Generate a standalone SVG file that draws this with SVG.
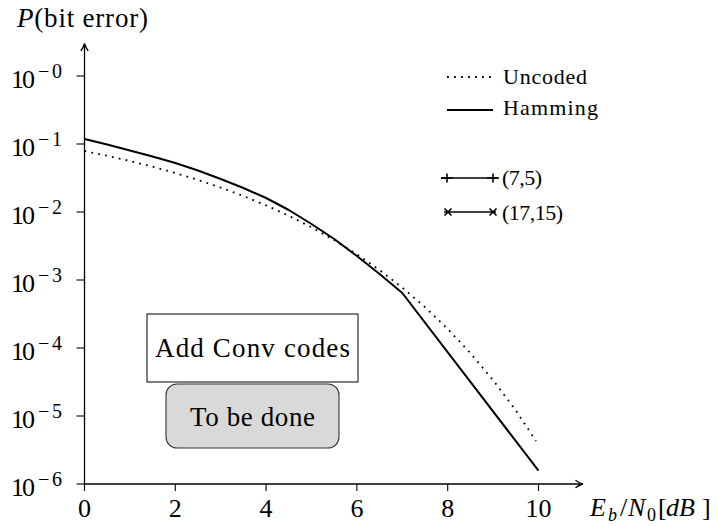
<svg xmlns="http://www.w3.org/2000/svg" width="718" height="526" viewBox="0 0 718 526">
<style>
  text { font-family: "Liberation Serif", "Times New Roman", serif; fill: #000; }
  .tick { font-size: 26px; }
  .sup { font-size: 20px; }
  .leg { font-size: 22px; }
  .ax { stroke: #000; stroke-width: 1.3; fill: none; }
  .tk { stroke: #000; stroke-width: 1.1; }
  .solid { stroke: #000; stroke-width: 2; fill: none; stroke-linejoin: round; }
  .dots { stroke: #000; stroke-width: 1.8; fill: none; stroke-dasharray: 1.8 5.2; }
  .mk { stroke: #000; stroke-width: 1.6; fill: none; }
</style>
<rect width="718" height="526" fill="#fff"/>

<g id="axes">
  <line class="ax" x1="84.5" y1="484" x2="84.5" y2="44"/>
  <path class="ax" d="M80.8,51 Q84,46 84.5,43.5 Q85,46 88.2,51"/>
  <line class="ax" x1="84.5" y1="484" x2="582" y2="484"/>
  <path class="ax" d="M575.5,480.3 Q580.5,483.5 583,484 Q580.5,484.5 575.5,487.7"/>
  <g class="tk">
    <line x1="76.5" y1="76" x2="84.5" y2="76"/>
    <line x1="76.5" y1="144" x2="84.5" y2="144"/>
    <line x1="76.5" y1="212" x2="84.5" y2="212"/>
    <line x1="76.5" y1="280" x2="84.5" y2="280"/>
    <line x1="76.5" y1="348" x2="84.5" y2="348"/>
    <line x1="76.5" y1="416" x2="84.5" y2="416"/>
    <line x1="76.5" y1="484" x2="84.5" y2="484"/>
    <line x1="84.5" y1="484" x2="84.5" y2="491"/>
    <line x1="175.3" y1="484" x2="175.3" y2="491"/>
    <line x1="266.1" y1="484" x2="266.1" y2="491"/>
    <line x1="356.9" y1="484" x2="356.9" y2="491"/>
    <line x1="447.7" y1="484" x2="447.7" y2="491"/>
    <line x1="538.5" y1="484" x2="538.5" y2="491"/>
  </g>
  <g class="tick">
    <text x="11" y="88" textLength="24">10</text><text class="sup" x="38" y="78" textLength="24">−0</text>
    <text x="11" y="156" textLength="24">10</text><text class="sup" x="38" y="146" textLength="24">−1</text>
    <text x="11" y="224" textLength="24">10</text><text class="sup" x="38" y="214" textLength="24">−2</text>
    <text x="11" y="292" textLength="24">10</text><text class="sup" x="38" y="282" textLength="24">−3</text>
    <text x="11" y="360" textLength="24">10</text><text class="sup" x="38" y="350" textLength="24">−4</text>
    <text x="11" y="428" textLength="24">10</text><text class="sup" x="38" y="418" textLength="24">−5</text>
    <text x="11" y="496" textLength="24">10</text><text class="sup" x="38" y="486" textLength="24">−6</text>
    <text x="84.5" y="517" text-anchor="middle">0</text>
    <text x="175.3" y="517" text-anchor="middle">2</text>
    <text x="266.1" y="517" text-anchor="middle">4</text>
    <text x="356.9" y="517" text-anchor="middle">6</text>
    <text x="447.7" y="517" text-anchor="middle">8</text>
    <text x="538.5" y="517" text-anchor="middle">10</text>
  </g>
  <text x="17" y="27" font-size="27" textLength="131"><tspan font-style="italic">P</tspan>(bit error)</text>
  <text y="516" font-size="26"><tspan x="590" font-style="italic">E</tspan><tspan x="608" dy="5" font-size="18" font-style="italic">b</tspan><tspan x="620" dy="-5">/</tspan><tspan x="628" font-style="italic">N</tspan><tspan x="647" dy="5" font-size="18">0</tspan><tspan x="658" dy="-5">[</tspan><tspan x="666" font-style="italic">dB</tspan><tspan x="702">]</tspan></text>
</g>

<g id="connectors">
  <polyline id="uncoded" class="dots" points="84.5,151.1 107.2,155.8 129.9,161 152.6,166.7 175.3,173 198,179.9 220.7,187.6 243.4,196 266.1,205.4 288.8,215.8 311.5,227.3 334.2,240.1 356.9,254.3 379.6,270.1 402.3,287.6 425,307.1 447.7,328.9 470.4,353.2 493.1,380.2 515.8,410.4 536,441"/>
  <polyline id="hamming" class="solid" points="84.5,139 107.2,144.5 129.9,150.5 152.6,156.5 175.3,163 198,170.5 220.7,179 243.4,188 266.1,198 288.8,210 311.5,224 334.2,239 356.9,256 379.6,274 402.3,293 538.5,470.7"/>
</g>

<g id="legend">
  <line class="dots" x1="447" y1="77" x2="493" y2="77"/>
  <text class="leg" x="503" y="84" textLength="84">Uncoded</text>
  <line class="solid" x1="447" y1="110" x2="493" y2="110"/>
  <text class="leg" x="503" y="115" textLength="95">Hamming</text>
  <line class="mk" x1="441" y1="178" x2="498" y2="178"/>
  <path class="mk" d="M441,178 h12 M447,173.5 v9 M487,178 h12 M493,173.5 v9"/>
  <text class="leg" x="502" y="185" textLength="40">(7,5)</text>
  <line class="mk" x1="444" y1="212" x2="496" y2="212"/>
  <path class="mk" d="M444.5,208.5 l7,7 M444.5,215.5 l7,-7 M489.5,208.5 l7,7 M489.5,215.5 l7,-7"/>
  <text class="leg" x="502" y="220" textLength="61">(17,15)</text>
</g>

<g id="node-add">
  <rect x="147" y="314" width="211" height="68" fill="#fff" stroke="#000" stroke-width="1"/>
  <text x="252.5" y="357" font-size="27" text-anchor="middle" textLength="195">Add Conv codes</text>
</g>
<g id="node-todo">
  <rect x="166" y="384" width="173" height="64" rx="11" fill="#d9d9d9" stroke="#333" stroke-width="1.1"/>
  <text x="252.5" y="426" font-size="27" text-anchor="middle" textLength="125">To be done</text>
</g>
</svg>
